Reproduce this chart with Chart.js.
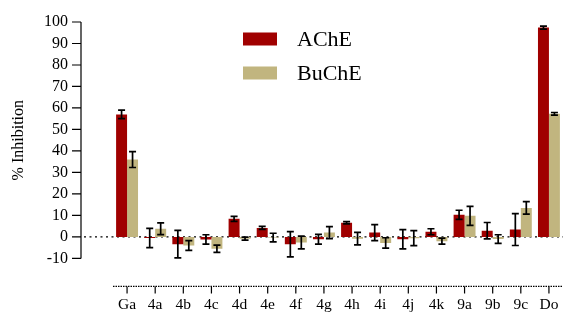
<!DOCTYPE html>
<html>
<head>
<meta charset="utf-8">
<script src="https://cdn.jsdelivr.net/npm/chart.js@4/dist/chart.umd.min.js"></script>
<style>
  html, body { margin: 0; padding: 0; background: #fff; }
  #wrap { width: 563px; height: 313px; position: relative; }
</style>
</head>
<body>
<div id="wrap"><canvas id="myChart"></canvas></div>
<script>
//chart data
const categories = ["Ga", "4a", "4b", "4c", "4d", "4e", "4f", "4g", "4h", "4i", "4j", "4k", "9a", "9b", "9c", "Do"];
const acheValues = [57, -0.5, -3.4, -1.2, 8.4, 4.2, -3.4, -1.1, 6.6, 2, -1.1, 2.4, 10.3, 2.9, 3.4, 97.4];
const acheErrors = [2, 4.5, 6.4, 2.2, 1.2, 0.7, 5.9, 2.3, 0.5, 3.7, 4.5, 1.4, 2.1, 3.8, 7.4, 0.7];
const bucheValues = [36, 3.8, -4, -5.5, -0.8, -0.3, -2.6, 2, -0.8, -2.8, -0.6, -2, 9.8, -1, 13.5, 57.3];
const bucheErrors = [3.7, 2.7, 2.3, 1.7, 0.7, 2, 3, 2.8, 2.9, 2.4, 3.5, 1.4, 4.4, 2, 2.9, 0.6];
const yTicks = [-10, 0, 10, 20, 30, 40, 50, 60, 70, 80, 90, 100];

const errors = [acheErrors, bucheErrors];

//draws the offset axes, the zero line, error bars and the legend
const extrasPlugin = {
  id: "extras",
  beforeDatasetsDraw(chart) {
    let ctx = chart.ctx;
    let area = chart.chartArea;
    let y = chart.scales.y;
    let zero = y.getPixelForValue(0);
    ctx.save();
    ctx.strokeStyle = "#000";
    ctx.lineWidth = 1.3;
    ctx.setLineDash([2, 3.5]);
    ctx.beginPath();
    ctx.moveTo(area.left - 29, zero);
    ctx.lineTo(area.right, zero);
    ctx.stroke();
    ctx.restore();
  },
  afterDatasetsDraw(chart) {
    let ctx = chart.ctx;
    let area = chart.chartArea;
    let x = chart.scales.x;
    let y = chart.scales.y;
    ctx.save();

    //error bars
    ctx.strokeStyle = "#000";
    ctx.lineWidth = 1.7;
    chart.data.datasets.forEach(function(ds, i) {
      let meta = chart.getDatasetMeta(i);
      meta.data.forEach(function(bar, j) {
        let v = ds.data[j];
        let e = errors[i][j];
        let top = y.getPixelForValue(v + e);
        let bottom = y.getPixelForValue(v - e);
        ctx.beginPath();
        ctx.moveTo(bar.x, top);
        ctx.lineTo(bar.x, bottom);
        ctx.moveTo(bar.x - 3.5, top);
        ctx.lineTo(bar.x + 3.5, top);
        ctx.moveTo(bar.x - 3.5, bottom);
        ctx.lineTo(bar.x + 3.5, bottom);
        ctx.stroke();
      });
    });

    //y axis, pushed left of the plot
    let axisX = area.left - 32;
    let yTop = y.getPixelForValue(yTicks[yTicks.length - 1]);
    let yBottom = y.getPixelForValue(yTicks[0]);
    ctx.lineWidth = 1.2;
    ctx.beginPath();
    ctx.moveTo(axisX, yTop);
    ctx.lineTo(axisX, yBottom);
    for (let t of yTicks) {
      let py = y.getPixelForValue(t);
      ctx.moveTo(axisX - 9, py);
      ctx.lineTo(axisX, py);
    }
    ctx.stroke();

    //x axis, pushed below the plot
    let axisY = area.bottom + 28;
    ctx.setLineDash([1.5, 1]);
    ctx.beginPath();
    ctx.moveTo(area.left, axisY);
    ctx.lineTo(area.right, axisY);
    ctx.stroke();
    ctx.setLineDash([]);
    ctx.beginPath();
    for (let i = 0; i < categories.length; i++) {
      let px = x.getPixelForValue(i);
      ctx.moveTo(px, axisY);
      ctx.lineTo(px, axisY + 7);
    }
    ctx.stroke();

    //legend
    ctx.font = "22px 'Liberation Serif'";
    ctx.textBaseline = "middle";
    chart.data.datasets.forEach(function(ds, i) {
      let ly = 39 + i * 34;
      ctx.fillStyle = ds.backgroundColor;
      ctx.fillRect(243, ly - 6.5, 34, 13);
      ctx.fillStyle = "#000";
      ctx.fillText(ds.label, 297, ly + 1);
    });
    ctx.restore();
  }
};

//load the chart
function loadChart() {
  Chart.defaults.font.family = "'Liberation Serif', 'Times New Roman', serif";
  Chart.defaults.color = "#000";
  let ctx = document.getElementById("myChart").getContext("2d");
  new Chart(ctx, {
    type: "bar",
    data: {
      labels: categories,
      datasets: [
        {
          label: "AChE",
          backgroundColor: "#A00000",
          data: acheValues
        },
        {
          label: "BuChE",
          backgroundColor: "#C1B57F",
          data: bucheValues
        }
      ]
    },
    options: {
      responsive: true,
      maintainAspectRatio: false,
      animation: false,
      layout: { padding: { top: 22, right: 0, bottom: -4, left: 0 } },
      datasets: {
        bar: { categoryPercentage: 0.78, barPercentage: 1 }
      },
      plugins: {
        legend: { display: false },
        tooltip: { enabled: false }
      },
      scales: {
        x: {
          // tick marks are hidden, their length only pushes the labels down
          grid: { display: false, drawTicks: true, tickLength: 34 },
          border: { display: false },
          ticks: { font: { size: 15.5 }, padding: 3, maxRotation: 0, autoSkip: false }
        },
        y: {
          min: -10,
          max: 100,
          afterFit: function(scale) {
            scale.width = 113;
          },
          afterBuildTicks: function(scale) {
            scale.ticks = yTicks.map(v => ({ value: v }));
          },
          grid: { display: false, drawTicks: true, tickLength: 42 },
          border: { display: false },
          ticks: { font: { size: 16 }, padding: 3, autoSkip: false },
          title: {
            display: true,
            text: "% Inhibition",
            font: { size: 16 },
            padding: { top: 9, bottom: 0 }
          }
        }
      }
    },
    plugins: [extrasPlugin]
  });
}

window.onload = function() {
  loadChart();
};
</script>
</body>
</html>
